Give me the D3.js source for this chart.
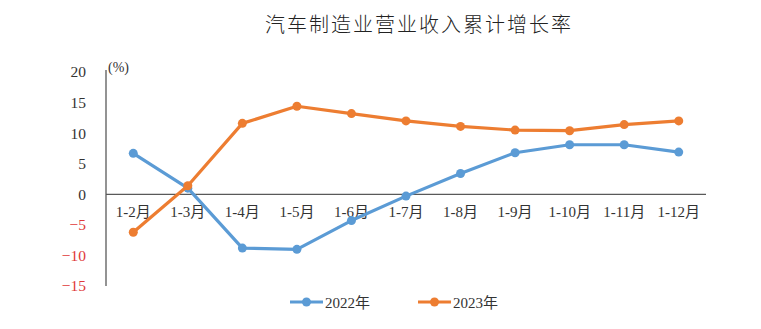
<!DOCTYPE html>
<html>
<head>
<meta charset="utf-8">
<script src="https://cdn.jsdelivr.net/npm/d3@7"></script>
<style>
  html, body { margin: 0; padding: 0; background: #fff; }
  svg { display: block; }
</style>
</head>
<body>
<svg id="chart" width="761" height="329"></svg>
<script>
// Cumulative year-on-year revenue growth of automobile manufacturing (%)
const categories = ["1-2月", "1-3月", "1-4月", "1-5月", "1-6月", "1-7月", "1-8月", "1-9月", "1-10月", "1-11月", "1-12月"];
const values2022 = [6.7, 1.0, -8.8, -9.0, -4.3, -0.3, 3.4, 6.8, 8.1, 8.1, 6.9];
const values2023 = [-6.2, 1.4, 11.6, 14.4, 13.2, 12.0, 11.1, 10.5, 10.4, 11.4, 12.0];
const seriesNames = ["2022年", "2023年"];
const seriesColors = ["#5B9BD5", "#ED7D31"];
const yTicks = [20, 15, 10, 5, 0, -5, -10, -15];
const titleText = "汽车制造业营业收入累计增长率";
const unitText = "(%)";

const svg = d3.select("#chart");
const plot = { left: 106, right: 706, top: 72, bottom: 286 };

const x = d3.scaleBand().domain(categories).range([plot.left, plot.right]);
const y = d3.scaleLinear().domain([-15, 20]).range([plot.bottom, plot.top]);

const serif = "'Liberation Serif', 'Times New Roman', 'Noto Sans CJK SC', serif";

// Title
svg.append("text")
  .attr("x", 419).attr("y", 32)
  .attr("text-anchor", "middle")
  .attr("font-family", "'Noto Sans CJK SC', sans-serif")
  .attr("font-weight", 300)
  .attr("font-size", 20)
  .attr("letter-spacing", 2)
  .attr("fill", "#222")
  .text(titleText);

// Y axis: line at left edge, labels only
const yAxis = d3.axisLeft(y).tickValues(yTicks).tickSize(0).tickPadding(20);
const gy = svg.append("g").attr("transform", `translate(${plot.left},0)`).call(yAxis);
gy.select(".domain").attr("stroke", "#595959").attr("stroke-width", 1.3)
  .attr("d", `M0,${plot.top - 2}V${plot.bottom}`);
gy.selectAll(".tick text")
  .attr("font-family", serif)
  .attr("font-size", 15.5)
  .attr("fill", d => d < 0 ? "#E03A3A" : "#333");

// Unit label
svg.append("text")
  .attr("x", 108).attr("y", 72)
  .attr("font-family", serif)
  .attr("font-size", 14)
  .attr("fill", "#333")
  .text(unitText);

// X axis at zero
const xAxis = d3.axisBottom(x).tickSize(0).tickPadding(12);
const gx = svg.append("g").attr("transform", `translate(0,${y(0)})`).call(xAxis);
gx.select(".domain").attr("stroke", "#595959").attr("stroke-width", 1.3)
  .attr("d", `M${plot.left},0H${plot.right}`);
gx.selectAll(".tick text")
  .attr("font-family", serif)
  .attr("font-size", 15)
  .attr("fill", "#333");

// Lines and markers
const line = d3.line()
  .x((d, i) => x(categories[i]) + x.bandwidth() / 2)
  .y(d => y(d));

[values2022, values2023].forEach((vals, s) => {
  const g = svg.append("g");
  g.append("path")
    .datum(vals)
    .attr("fill", "none")
    .attr("stroke", seriesColors[s])
    .attr("stroke-width", 3.2)
    .attr("stroke-linejoin", "round")
    .attr("d", line);
  g.selectAll("circle")
    .data(vals)
    .join("circle")
    .attr("cx", (d, i) => x(categories[i]) + x.bandwidth() / 2)
    .attr("cy", d => y(d))
    .attr("r", 4.5)
    .attr("fill", seriesColors[s]);
});

// Legend
const legendX = [290, 418];
seriesNames.forEach((name, s) => {
  const g = svg.append("g").attr("transform", `translate(${legendX[s]},302)`);
  g.append("line").attr("x1", 0).attr("x2", 33).attr("y1", 0).attr("y2", 0)
    .attr("stroke", seriesColors[s]).attr("stroke-width", 3.2);
  g.append("circle").attr("cx", 16.5).attr("cy", 0).attr("r", 4.5).attr("fill", seriesColors[s]);
  g.append("text").attr("x", 35).attr("y", 5.5)
    .attr("font-family", serif)
    .attr("font-size", 15)
    .attr("fill", "#333")
    .text(name);
});
</script>
</body>
</html>
